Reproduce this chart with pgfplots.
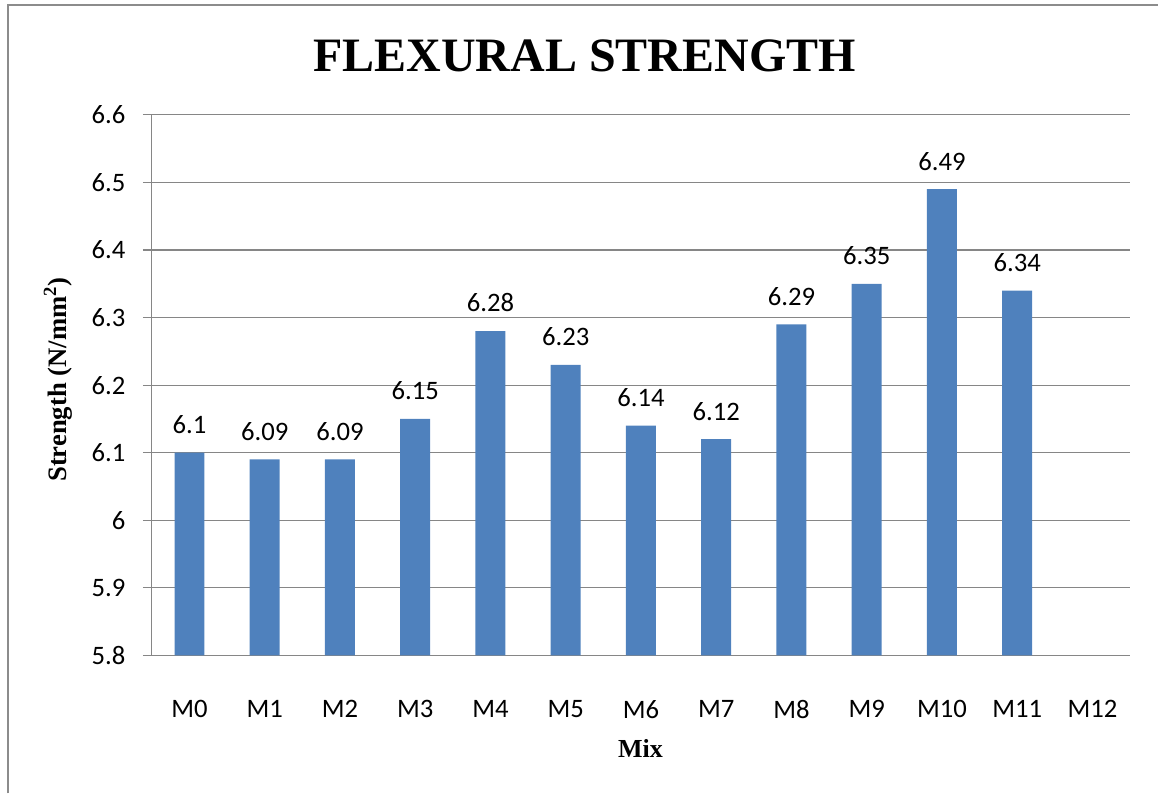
\documentclass[border=0pt]{standalone}
\usepackage{fontspec}
\setmainfont{Liberation Serif}
\newfontfamily\calibri{Carlito}
\usepackage{pgfplots}
\pgfplotsset{compat=1.18}
\definecolor{barblue}{HTML}{4F81BD}
\definecolor{gridgray}{HTML}{868686}
\definecolor{framegray}{HTML}{8C8C8C}
\begin{document}
\begin{tikzpicture}
% page bounds 1159 x 794 px (1px = 0.75pt)
\path (0pt,0pt) rectangle (869.25pt,595.5pt);
% frame (left and top)
\draw[framegray, line width=1.5pt] (6pt,0pt) -- (6pt,591.75pt) -- (869.25pt,591.75pt);
% title
\node[anchor=base, font=\bfseries\fontsize{36}{40}\selectfont] at (438.75pt,541.5pt) {FLEXURAL STRENGTH};
% y label
\node[rotate=90, font=\bfseries\fontsize{20}{22}\selectfont] at (43.5pt,310.5pt) {Strength (N/mm\textsuperscript{2})};
% x label
\node[anchor=base, font=\bfseries\fontsize{19.5}{22}\selectfont] at (480.75pt,27pt) {Mix};
\begin{axis}[
  at={(114pt,103.5pt)}, anchor=south west,
  scale only axis,
  width=734.25pt, height=405.75pt,
  ybar, bar width=22.5pt,
  xmin=-0.5, xmax=12.5,
  ymin=5.8, ymax=6.6,
  ytick={5.8,5.9,6,6.1,6.2,6.3,6.4,6.5,6.6},
  yticklabels={5.8,5.9,6,6.1,6.2,6.3,6.4,6.5,6.6},
  xtick={0,1,2,3,4,5,6,7,8,9,10,11,12},
  xticklabels={M0,M1,M2,M3,M4,M5,M6,M7,M8,M9,M10,M11,M12},
  axis lines=left,
  axis line style={draw=gridgray, line width=0.9pt, -},
  ymajorgrids, grid style={draw=gridgray, line width=0.9pt},
  xtick style={draw=none},
  ytick style={draw=gridgray, line width=0.9pt},
  tick align=outside, major tick length=6.75pt,
  /pgf/number format/assume math mode=true,
  tick label style={font=\calibri\fontsize{20}{22}\selectfont, inner sep=0pt},
  yticklabel style={anchor=east, xshift=-13pt},
  xticklabel style={anchor=north, yshift=-27pt},
  nodes near coords,
  nodes near coords style={font=\calibri\fontsize{20}{22}\selectfont, anchor=south, inner sep=0pt, yshift=14pt, /pgf/number format/fixed, /pgf/number format/precision=2},
  clip=false,
]
\addplot[fill=barblue, draw=none] coordinates {
  (0,6.10) (1,6.09) (2,6.09) (3,6.15) (4,6.28) (5,6.23) (6,6.14)
  (7,6.12) (8,6.29) (9,6.35) (10,6.49) (11,6.34)
};
\end{axis}
\end{tikzpicture}
\end{document}
